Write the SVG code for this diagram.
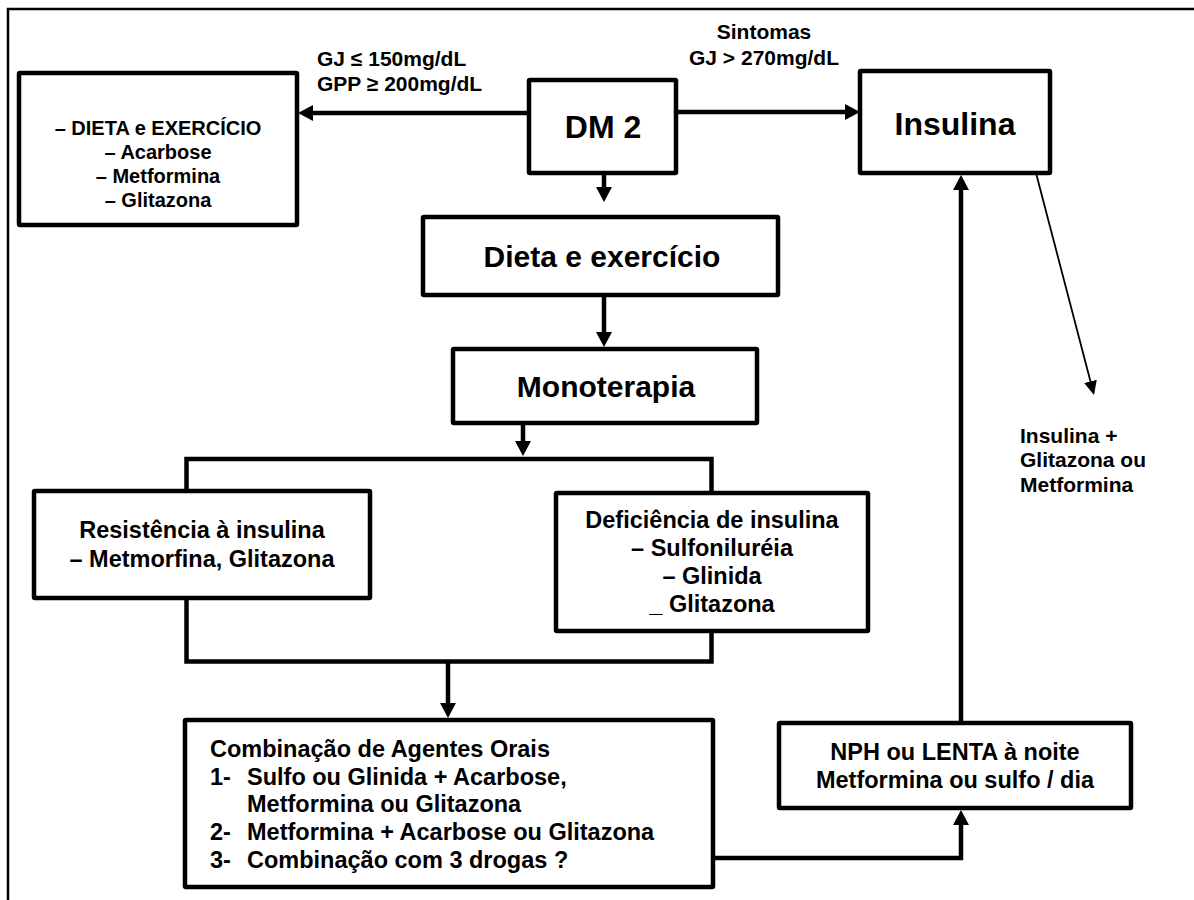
<svg xmlns="http://www.w3.org/2000/svg" width="1194" height="900" viewBox="0 0 1194 900">
<style>
.box{fill:#fff;stroke:#000;stroke-width:4.5;stroke-linejoin:round}
.con{fill:none;stroke:#000;stroke-width:4.5;stroke-linejoin:miter}
.thin{fill:none;stroke:#000;stroke-width:1.8}
text{font-family:"Liberation Sans",Arial,sans-serif;font-weight:bold;fill:#000}
.c{text-anchor:middle}
.f21{font-size:21px}
.f20{font-size:20px}
.f24{font-size:23.5px}
.f30{font-size:30px}
.f32{font-size:32px}
</style>
<defs>
<marker id="ah" markerUnits="userSpaceOnUse" markerWidth="15" markerHeight="16" refX="10" refY="8" orient="auto" viewBox="0 0 15 16">
<path d="M0,0 L15,8 L0,16 z" fill="#000"/>
</marker>
<marker id="ahs" markerUnits="userSpaceOnUse" markerWidth="14" markerHeight="13" refX="12" refY="6.5" orient="auto" viewBox="0 0 14 13">
<path d="M0,0 L14,6.5 L0,13 z" fill="#000"/>
</marker>
</defs>
<rect width="1194" height="900" fill="#fff"/>
<path d="M8,900 V9 H1194" fill="none" stroke="#000" stroke-width="2.5"/>

<g id="connectors">
<line class="con" x1="529" y1="113" x2="303" y2="113" marker-end="url(#ah)"/>
<line class="con" x1="676" y1="112" x2="855" y2="112" marker-end="url(#ah)"/>
<line class="con" x1="604" y1="173" x2="604" y2="197" marker-end="url(#ah)"/>
<line class="con" x1="604" y1="295" x2="604" y2="342" marker-end="url(#ah)"/>
<line class="con" x1="523" y1="423" x2="523" y2="451" marker-end="url(#ah)"/>
<path class="con" d="M186.5,491 V459 H711.5 V493"/>
<path class="con" d="M186.5,598 V661.5 H711.5 V631"/>
<line class="con" x1="448" y1="661.5" x2="448" y2="713" marker-end="url(#ah)"/>
<path class="con" d="M713,858 H961 V815" marker-end="url(#ah)"/>
<line class="con" x1="961" y1="723" x2="961" y2="180" marker-end="url(#ah)"/>
<line class="thin" x1="1036" y1="173" x2="1093.5" y2="393" marker-end="url(#ahs)"/>
<text class="f21" x="317" y="66">GJ ≤ 150mg/dL</text>
<text class="f21" x="317" y="91">GPP ≥ 200mg/dL</text>
<text class="f21 c" x="764" y="39">Sintomas</text>
<text class="f21 c" x="764" y="65">GJ &gt; 270mg/dL</text>
<text class="f21" x="1020" y="443">Insulina +</text>
<text class="f21" x="1020" y="467">Glitazona ou</text>
<text class="f21" x="1020" y="492">Metformina</text>
</g>

<g id="node-left">
<rect class="box" x="19" y="73" width="278" height="152" rx="1"/>
<text class="f20 c" x="158" y="135">– DIETA e EXERCÍCIO</text>
<text class="f20 c" x="158" y="159">– Acarbose</text>
<text class="f20 c" x="158" y="183">– Metformina</text>
<text class="f20 c" x="158" y="207">– Glitazona</text>
</g>

<g id="node-dm2">
<rect class="box" x="529" y="80" width="147" height="93" rx="1"/>
<text class="f32 c" x="603" y="138">DM 2</text>
</g>

<g id="node-insulina">
<rect class="box" x="860" y="71" width="190" height="102" rx="1"/>
<text class="f32 c" x="955" y="135">Insulina</text>
</g>

<g id="node-dieta">
<rect class="box" x="423" y="217" width="355" height="78" rx="1"/>
<text class="f30 c" x="602" y="267">Dieta e exercício</text>
</g>

<g id="node-mono">
<rect class="box" x="453" y="349" width="304" height="74" rx="1"/>
<text class="f30 c" x="606" y="397">Monoterapia</text>
</g>

<g id="node-resist">
<rect class="box" x="34" y="491" width="336" height="107" rx="1"/>
<text class="f24 c" x="202" y="538">Resistência à insulina</text>
<text class="f24 c" x="202" y="567">– Metmorfina, Glitazona</text>
</g>

<g id="node-defic">
<rect class="box" x="556" y="493" width="312" height="138" rx="1"/>
<text class="f24 c" x="712" y="528">Deficiência de insulina</text>
<text class="f24 c" x="712" y="556">– Sulfoniluréia</text>
<text class="f24 c" x="712" y="584">– Glinida</text>
<text class="f24 c" x="712" y="612">_ Glitazona</text>
</g>

<g id="node-comb">
<rect class="box" x="185" y="720" width="528" height="167" rx="1"/>
<text class="f24" x="210" y="757">Combinação de Agentes Orais</text>
<text class="f24" x="210" y="785">1-</text>
<text class="f24" x="247" y="785">Sulfo ou Glinida + Acarbose,</text>
<text class="f24" x="247" y="812">Metformina ou Glitazona</text>
<text class="f24" x="210" y="840">2-</text>
<text class="f24" x="247" y="840">Metformina + Acarbose ou Glitazona</text>
<text class="f24" x="210" y="868">3-</text>
<text class="f24" x="247" y="868">Combinação com 3 drogas ?</text>
</g>

<g id="node-nph">
<rect class="box" x="779" y="723" width="352" height="85" rx="1"/>
<text class="f24 c" x="955" y="760">NPH ou LENTA à noite</text>
<text class="f24 c" x="955" y="788">Metformina ou sulfo / dia</text>
</g>
</svg>
